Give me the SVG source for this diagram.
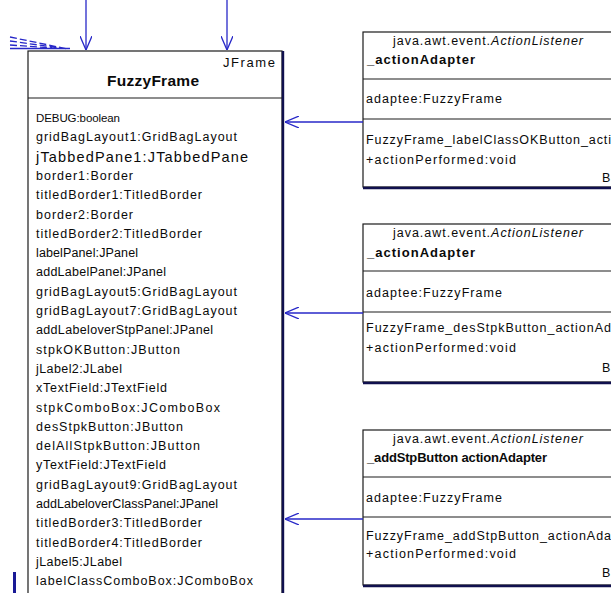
<svg xmlns="http://www.w3.org/2000/svg" width="611" height="593" viewBox="0 0 611 593">
  <style>
    .box{fill:#fff;stroke:#1c1c1c;stroke-width:1.2}
    .div{stroke:#1c1c1c;stroke-width:1.2}
    .shadow{stroke:#10104e;stroke-width:2.4;fill:none}
    .t{font-family:"Liberation Sans",Arial,sans-serif;font-size:12.5px;fill:#0a0a0a}
    .small{font-size:11.5px}
    .big{font-size:14.5px}
    .head{font-size:13px}
    .title{font-size:15.5px;font-weight:bold}
    .b{font-weight:bold;font-size:13px}
    .i{font-style:italic}
    .conn{stroke:#2828c8;stroke-width:1.3;fill:none}
  </style>
  <defs>
    <marker id="open" viewBox="0 0 14 12" refX="14" refY="6" markerWidth="14" markerHeight="12" markerUnits="userSpaceOnUse" orient="auto">
      <path d="M0,0 L14,6 L0,12" fill="none" stroke="#2828c8" stroke-width="1.3"/>
    </marker>
  </defs>
  <rect width="611" height="593" fill="#fff"/>

  <!-- FuzzyFrame class -->
  <g id="FuzzyFrame">
    <rect class="box" x="28" y="51" width="254" height="560"/>
    <line class="shadow" x1="283" y1="51" x2="283" y2="593"/>
    <line class="div" x1="28" y1="98" x2="282" y2="98"/>
    <text class="t head" x="223" y="67" textLength="52" lengthAdjust="spacing">JFrame</text>
    <text class="t title" x="107" y="86" textLength="92" lengthAdjust="spacing">FuzzyFrame</text>
    <text class="t small" x="36" y="122" textLength="84" lengthAdjust="spacing">DEBUG:boolean</text>
    <text class="t" x="36" y="141.3" textLength="201" lengthAdjust="spacing">gridBagLayout1:GridBagLayout</text>
    <text class="t big" x="36" y="161.6" textLength="212" lengthAdjust="spacing">jTabbedPane1:JTabbedPane</text>
    <text class="t" x="36" y="179.9" textLength="97" lengthAdjust="spacing">border1:Border</text>
    <text class="t" x="36" y="199.2" textLength="166" lengthAdjust="spacing">titledBorder1:TitledBorder</text>
    <text class="t" x="36" y="218.5" textLength="97" lengthAdjust="spacing">border2:Border</text>
    <text class="t" x="36" y="237.8" textLength="166" lengthAdjust="spacing">titledBorder2:TitledBorder</text>
    <text class="t" x="36" y="257.1" textLength="102" lengthAdjust="spacing">labelPanel:JPanel</text>
    <text class="t" x="36" y="276.4" textLength="130" lengthAdjust="spacing">addLabelPanel:JPanel</text>
    <text class="t" x="36" y="295.7" textLength="201" lengthAdjust="spacing">gridBagLayout5:GridBagLayout</text>
    <text class="t" x="36" y="315" textLength="201" lengthAdjust="spacing">gridBagLayout7:GridBagLayout</text>
    <text class="t" x="36" y="334.3" textLength="177" lengthAdjust="spacing">addLabeloverStpPanel:JPanel</text>
    <text class="t" x="36" y="353.6" textLength="144" lengthAdjust="spacing">stpkOKButton:JButton</text>
    <text class="t" x="36" y="372.9" textLength="86" lengthAdjust="spacing">jLabel2:JLabel</text>
    <text class="t" x="36" y="392.2" textLength="131" lengthAdjust="spacing">xTextField:JTextField</text>
    <text class="t" x="36" y="411.5" textLength="184" lengthAdjust="spacing">stpkComboBox:JComboBox</text>
    <text class="t" x="36" y="430.8" textLength="147" lengthAdjust="spacing">desStpkButton:JButton</text>
    <text class="t" x="36" y="450.1" textLength="164" lengthAdjust="spacing">delAllStpkButton:JButton</text>
    <text class="t" x="36" y="469.4" textLength="130" lengthAdjust="spacing">yTextField:JTextField</text>
    <text class="t" x="36" y="488.7" textLength="201" lengthAdjust="spacing">gridBagLayout9:GridBagLayout</text>
    <text class="t" x="36" y="508" textLength="182" lengthAdjust="spacing">addLabeloverClassPanel:JPanel</text>
    <text class="t" x="36" y="527.3" textLength="166" lengthAdjust="spacing">titledBorder3:TitledBorder</text>
    <text class="t" x="36" y="546.6" textLength="166" lengthAdjust="spacing">titledBorder4:TitledBorder</text>
    <text class="t" x="36" y="565.9" textLength="86" lengthAdjust="spacing">jLabel5:JLabel</text>
    <text class="t" x="36" y="585.2" textLength="217" lengthAdjust="spacing">labelClassComboBox:JComboBox</text>
  </g>

  <!-- listener adapter: labelClassOKButton -->
  <g id="labelClassOKAdapter">
    <rect class="box" x="363" y="32" width="260" height="155"/>
    <line class="shadow" x1="363" y1="188" x2="611" y2="188"/>
    <line class="div" x1="363" y1="79" x2="611" y2="79"/>
    <line class="div" x1="363" y1="119" x2="611" y2="119"/>
    <text class="t" x="393" y="45" textLength="190" lengthAdjust="spacing">java.awt.event.<tspan class="i">ActionListener</tspan></text>
    <text class="t b" x="367" y="64" textLength="108" lengthAdjust="spacing">_actionAdapter</text>
    <text class="t" x="366" y="103" textLength="136" lengthAdjust="spacing">adaptee:FuzzyFrame</text>
    <text class="t" x="366" y="144" textLength="245" lengthAdjust="spacing">FuzzyFrame_labelClassOKButton_acti</text>
    <text class="t" x="366" y="164" textLength="150" lengthAdjust="spacing">+actionPerformed:void</text>
    <text class="t" x="602" y="182">B</text>
  </g>

  <!-- listener adapter: desStpkButton -->
  <g id="desStpkAdapter">
    <rect class="box" x="363" y="224" width="260" height="158"/>
    <line class="shadow" x1="363" y1="383" x2="611" y2="383"/>
    <line class="div" x1="363" y1="271" x2="611" y2="271"/>
    <line class="div" x1="363" y1="312" x2="611" y2="312"/>
    <text class="t" x="393" y="237" textLength="190" lengthAdjust="spacing">java.awt.event.<tspan class="i">ActionListener</tspan></text>
    <text class="t b" x="367" y="257" textLength="108" lengthAdjust="spacing">_actionAdapter</text>
    <text class="t" x="366" y="297" textLength="136" lengthAdjust="spacing">adaptee:FuzzyFrame</text>
    <text class="t" x="366" y="332" textLength="245" lengthAdjust="spacing">FuzzyFrame_desStpkButton_actionAd</text>
    <text class="t" x="366" y="352" textLength="150" lengthAdjust="spacing">+actionPerformed:void</text>
    <text class="t" x="602" y="372">B</text>
  </g>

  <!-- listener adapter: addStpButton -->
  <g id="addStpAdapter">
    <rect class="box" x="363" y="430" width="260" height="155"/>
    <line class="shadow" x1="363" y1="586" x2="611" y2="586"/>
    <line class="div" x1="363" y1="477" x2="611" y2="477"/>
    <line class="div" x1="363" y1="517" x2="611" y2="517"/>
    <text class="t" x="393" y="443" textLength="190" lengthAdjust="spacing">java.awt.event.<tspan class="i">ActionListener</tspan></text>
    <text class="t b" x="367" y="462" textLength="180" lengthAdjust="spacing">_addStpButton actionAdapter</text>
    <text class="t" x="366" y="502" textLength="136" lengthAdjust="spacing">adaptee:FuzzyFrame</text>
    <text class="t" x="366" y="540" textLength="245" lengthAdjust="spacing">FuzzyFrame_addStpButton_actionAda</text>
    <text class="t" x="366" y="558" textLength="150" lengthAdjust="spacing">+actionPerformed:void</text>
    <text class="t" x="602" y="577">B</text>
  </g>

  <!-- connectors -->
  <g id="connectors">
    <line class="conn" x1="86" y1="0" x2="86" y2="50" marker-end="url(#open)"/>
    <line class="conn" x1="227" y1="0" x2="227" y2="50" marker-end="url(#open)"/>
    <line class="conn" x1="363" y1="122" x2="285" y2="122" marker-end="url(#open)"/>
    <line class="conn" x1="363" y1="313" x2="285" y2="313" marker-end="url(#open)"/>
    <line class="conn" x1="363" y1="519" x2="285" y2="519" marker-end="url(#open)"/>
    <path class="conn" d="M10,37 L68,49 M10,41 L60,48 M10,45 L52,48" stroke-dasharray="7 3"/>
    <path class="conn" d="M10,48.5 L70,48.5" stroke-width="1.8"/>
    <rect x="13" y="572" width="3" height="21" fill="#1a1a96"/>
  </g>
</svg>
